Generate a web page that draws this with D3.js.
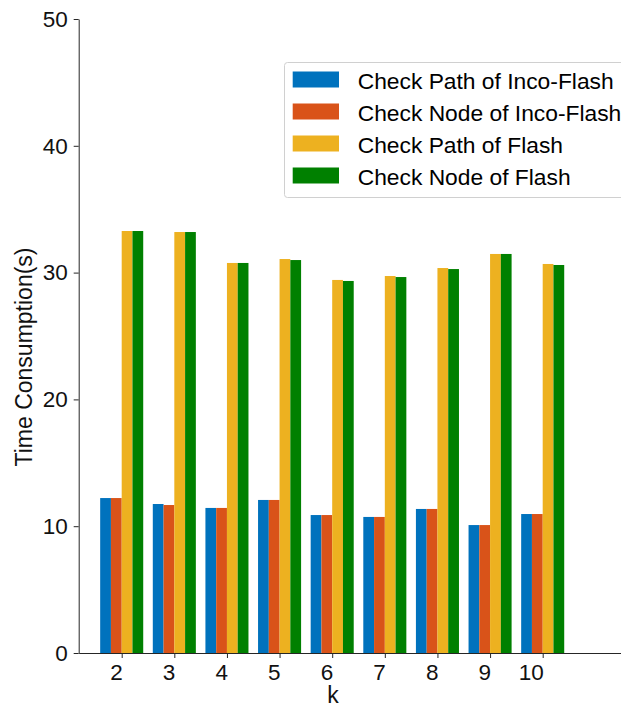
<!DOCTYPE html>
<html>
<head>
<meta charset="utf-8">
<script src="https://cdn.jsdelivr.net/npm/d3@7"></script>
<style>
  html, body { margin: 0; padding: 0; background: #fff; }
  svg { display: block; font-family: "Liberation Sans", Arial, sans-serif; }
</style>
</head>
<body>
<svg id="chart" width="621" height="709"></svg>
<script>
const categories = [2, 3, 4, 5, 6, 7, 8, 9, 10];
const seriesNames = ["Check Path of Inco-Flash", "Check Node of Inco-Flash", "Check Path of Flash", "Check Node of Flash"];
const pathInco = [12.22, 11.75, 11.44, 12.07, 10.88, 10.73, 11.36, 10.09, 10.96];
const nodeInco = [12.22, 11.67, 11.44, 12.07, 10.88, 10.73, 11.36, 10.09, 10.96];
const pathFlash = [33.28, 33.20, 30.76, 31.07, 29.42, 29.73, 30.36, 31.47, 30.68];
const nodeFlash = [33.28, 33.20, 30.76, 30.99, 29.34, 29.65, 30.28, 31.47, 30.60];
const yTicks = [0, 10, 20, 30, 40, 50];
const colors = ["#0072BD", "#D95319", "#EDB120", "#008000"];
const seriesValues = [pathInco, nodeInco, pathFlash, nodeFlash];

const svg = d3.select("#chart");
const axisColor = "#262626";

const x = d3.scaleLinear().domain([1.183, 11.488]).range([78.7, 621]);
const y = d3.scaleLinear().domain([0, 50]).range([653, 19]);

const barW = 0.2045;

// bars
seriesValues.forEach((vals, si) => {
  svg.append("g").selectAll("rect")
    .data(categories.map((c, i) => ({ c, v: vals[i] })))
    .join("rect")
    .attr("x", d => x(d.c + (si - 2) * barW))
    .attr("width", d => x(d.c + (si - 1) * barW) - x(d.c + (si - 2) * barW))
    .attr("y", d => y(d.v))
    .attr("height", d => y(0) - y(d.v))
    .attr("fill", colors[si]);
});

// y axis
const yAxis = svg.append("g")
  .attr("transform", `translate(${x.range()[0]},0)`)
  .call(d3.axisLeft(y).tickValues(yTicks).tickSize(5).tickSizeOuter(0).tickPadding(6));
yAxis.select(".domain").attr("stroke", axisColor);
yAxis.selectAll(".tick line").attr("stroke", axisColor);
yAxis.selectAll(".tick text").attr("fill", "#111").style("font-size", "22.5px");

// x axis
const xAxis = svg.append("g")
  .attr("transform", `translate(0,${y(0)})`)
  .call(d3.axisBottom(x).tickValues(categories).tickSize(5).tickSizeOuter(0).tickPadding(6));
xAxis.select(".domain").attr("stroke", axisColor);
xAxis.selectAll(".tick line").attr("stroke", axisColor);
xAxis.selectAll(".tick text")
  .attr("fill", "#111")
  .attr("text-anchor", "end")
  .attr("dx", "0.5")
  .style("font-size", "22.5px");

// axis labels
svg.append("text")
  .attr("x", 333).attr("y", 703)
  .attr("text-anchor", "middle")
  .attr("fill", "#111")
  .style("font-size", "23px")
  .text("k");

svg.append("text")
  .attr("transform", `translate(32,357) rotate(-90)`)
  .attr("text-anchor", "middle")
  .attr("fill", "#111")
  .style("font-size", "23px")
  .text("Time Consumption(s)");

// legend
const lg = svg.append("g");
lg.append("rect")
  .attr("x", 284.5).attr("y", 62.5)
  .attr("width", 350).attr("height", 135)
  .attr("rx", 3)
  .attr("fill", "#fff")
  .attr("stroke", "#d0d0d0");
seriesNames.forEach((name, i) => {
  const cy = 79.5 + i * 32;
  lg.append("rect")
    .attr("x", 292.7).attr("y", cy - 8)
    .attr("width", 46.3).attr("height", 16)
    .attr("fill", colors[i]);
  lg.append("text")
    .attr("x", 357.7).attr("y", cy + 1)
    .attr("dominant-baseline", "central")
    .attr("fill", "#000")
    .style("font-size", "22.8px")
    .text(name);
});
</script>
</body>
</html>
